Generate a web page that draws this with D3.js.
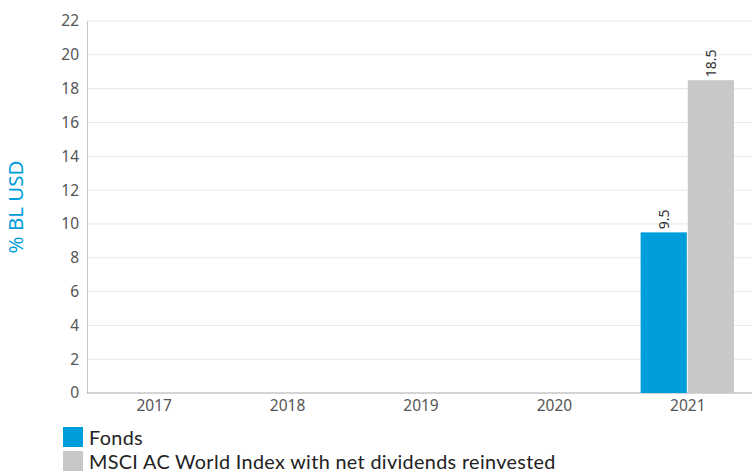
<!DOCTYPE html>
<html>
<head>
<meta charset="utf-8">
<script src="https://cdn.jsdelivr.net/npm/d3@7"></script>
<style>
    body { margin: 0; background: #fff; }
    svg text { font-family: "Noto Sans", sans-serif; }
    svg .legendText { font-family: Lato, "Noto Sans", sans-serif; }
</style>
</head>
<body>
<div id="chart"></div>
<script>
'use strict';

// data
const years = ['2017', '2018', '2019', '2020', '2021'];
const seriesNames = ['Fonds', 'MSCI AC World Index with net dividends reinvested'];
const fondsValues = [null, null, null, null, 9.5];
const indexValues = [null, null, null, null, 18.5];
const yTicks = [0, 2, 4, 6, 8, 10, 12, 14, 16, 18, 20, 22];
const colors = ['#009ddc', '#c8c8c8'];

const w = 752, h = 473;
const margin = {top: 21, right: -2, bottom: 80, left: 87};

const svg = d3.select('#chart')
    .append('svg')
    .attr('width', w)
    .attr('height', h);

const x0 = d3.scaleBand()
    .domain(years)
    .range([margin.left, w - margin.right])
    .paddingInner(0.3)
    .paddingOuter(0.15);

const x1 = d3.scaleBand()
    .domain([0, 1])
    .range([0, x0.bandwidth()])
    .paddingInner(0.02);

const y = d3.scaleLinear()
    .domain([0, 22])
    .range([h - margin.bottom, margin.top]);

// gridlines
svg.append('g')
    .selectAll('line')
    .data(yTicks.filter(d => d > 0))
    .join('line')
    .attr('x1', margin.left)
    .attr('x2', w)
    .attr('y1', d => y(d))
    .attr('y2', d => y(d))
    .attr('stroke', '#e8e8e8')
    .attr('stroke-width', 1);

// y axis
const yAxis = svg.append('g')
    .attr('transform', `translate(${margin.left},0)`)
    .call(d3.axisLeft(y).tickValues(yTicks).tickSize(0).tickPadding(8));
yAxis.select('.domain').attr('stroke', '#c4c4c4');
yAxis.selectAll('text')
    .attr('fill', '#555')
    .style('font-size', '15.5px');

// x axis
const xStep = x0.step();
const xAxis = svg.append('g')
    .attr('transform', `translate(0,${y(0)})`)
    .call(d3.axisBottom(d3.scalePoint().domain(years)
        .range([margin.left + xStep / 2, margin.left + xStep * (years.length - 0.5)]))
        .tickSize(0).tickPadding(7));
xAxis.select('.domain').remove();
xAxis.append('line')
    .attr('x1', margin.left)
    .attr('x2', w)
    .attr('stroke', '#aaa');
xAxis.selectAll('text')
    .attr('fill', '#555')
    .style('font-size', '15.5px');

// bars
const rows = years.map((yr, i) => ({year: yr, vals: [fondsValues[i], indexValues[i]]}));

const groups = svg.selectAll('.barG')
    .data(rows)
    .join('g')
    .attr('class', 'barG')
    .attr('transform', d => `translate(${x0(d.year)},0)`);

groups.selectAll('rect')
    .data(d => d.vals.map((v, k) => ({v, k})).filter(e => e.v !== null))
    .join('rect')
    .attr('x', d => x1(d.k))
    .attr('width', x1.bandwidth())
    .attr('y', d => y(d.v))
    .attr('height', d => y(0) - y(d.v))
    .attr('fill', d => colors[d.k]);

// value labels, rotated
groups.selectAll('.val')
    .data(d => d.vals.map((v, k) => ({v, k})).filter(e => e.v !== null))
    .join('text')
    .attr('class', 'val')
    .attr('transform', d => `translate(${x1(d.k) + x1.bandwidth() / 2 + 5},${y(d.v) - 3}) rotate(-90)`)
    .attr('fill', '#333')
    .style('font-size', '14px')
    .text(d => d.v.toFixed(1));

// y axis title
svg.append('text')
    .attr('transform', `translate(23,${(y(0) + y(22)) / 2}) rotate(-90)`)
    .attr('text-anchor', 'middle')
    .attr('fill', '#009ddc')
    .style('font-size', '20.5px')
    .text('% BL USD');

// legend
const legend = svg.append('g')
    .attr('transform', 'translate(63,427)');
seriesNames.forEach((name, i) => {
    legend.append('rect')
        .attr('x', 0)
        .attr('y', i * 24)
        .attr('width', 20)
        .attr('height', 20)
        .attr('fill', colors[i]);
    legend.append('text')
        .attr('class', 'legendText')
        .attr('x', 26)
        .attr('y', i * 24 + 18)
        .attr('fill', '#222')
        .style('font-size', '19.8px')
        .style('letter-spacing', '0.35px')
        .text(name);
});
</script>
</body>
</html>
